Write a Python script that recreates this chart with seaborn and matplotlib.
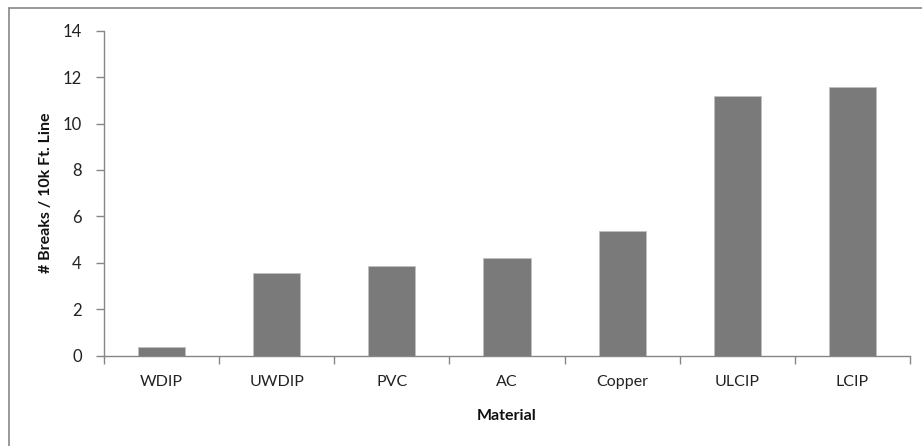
import matplotlib
matplotlib.use("Agg")
import matplotlib.pyplot as plt
import seaborn as sns
import pandas as pd
import numpy as np
from matplotlib.lines import Line2D

materials = ["WDIP", "UWDIP", "PVC", "AC", "Copper", "ULCIP", "LCIP"]
breaks = [0.39, 3.55, 3.88, 4.22, 5.36, 11.2, 11.58]
y_ticks = [0, 2, 4, 6, 8, 10, 12, 14]

df = pd.DataFrame({"Material": materials, "Breaks": breaks})

sns.set_theme(style="white")
plt.rcParams['font.family'] = ['Lato', 'DejaVu Sans']

fig = plt.figure(figsize=(9.22, 4.46), dpi=100)
ax = fig.add_axes([104/922, 1-355.7/446, (910-104)/922, (355.7-30.7)/446])

sns.barplot(data=df, x="Material", y="Breaks", color="#7a7a7a", saturation=1,
            width=0.41, edgecolor="#c0c0c0", linewidth=0.6, ax=ax)

axis_col = "#868686"
ax.set_ylim(0, 14)
ax.set_xlim(-0.5, len(materials) - 0.5)
ax.set_yticks(y_ticks)
ax.set_yticklabels([str(t) for t in y_ticks], fontsize=12, color="#222222")
ax.set_xticks(range(len(materials)))
ax.set_xticklabels(materials, fontsize=11.5, color="#222222")
ax.set_xticks(np.arange(-0.5, len(materials), 1.0), minor=True)
ax.tick_params(axis="x", which="major", length=0, pad=14)
ax.tick_params(axis="x", which="minor", length=6, width=1, color=axis_col, direction="out", bottom=True)
ax.tick_params(axis="y", which="major", length=6, width=1, color=axis_col, direction="out", left=True, pad=10)

for s in ["top", "right"]:
    ax.spines[s].set_visible(False)
for s in ["left", "bottom"]:
    ax.spines[s].set_color(axis_col)
    ax.spines[s].set_linewidth(1)

ax.set_xlabel("Material", fontsize=11.5, fontweight="bold", color="#111111", labelpad=14)
ax.set_ylabel("# Breaks / 10k Ft. Line", fontsize=11.5, fontweight="bold",
              color="#111111", labelpad=7)

fx, fy = 9/922, 1 - 8/446
fig.lines.append(Line2D([fx, 1.0], [fy, fy], transform=fig.transFigure,
                        color="#888888", linewidth=1.2))
fig.lines.append(Line2D([fx, fx], [0.0, fy], transform=fig.transFigure,
                        color="#888888", linewidth=1.2))

fig.savefig("out.png", dpi=100)
